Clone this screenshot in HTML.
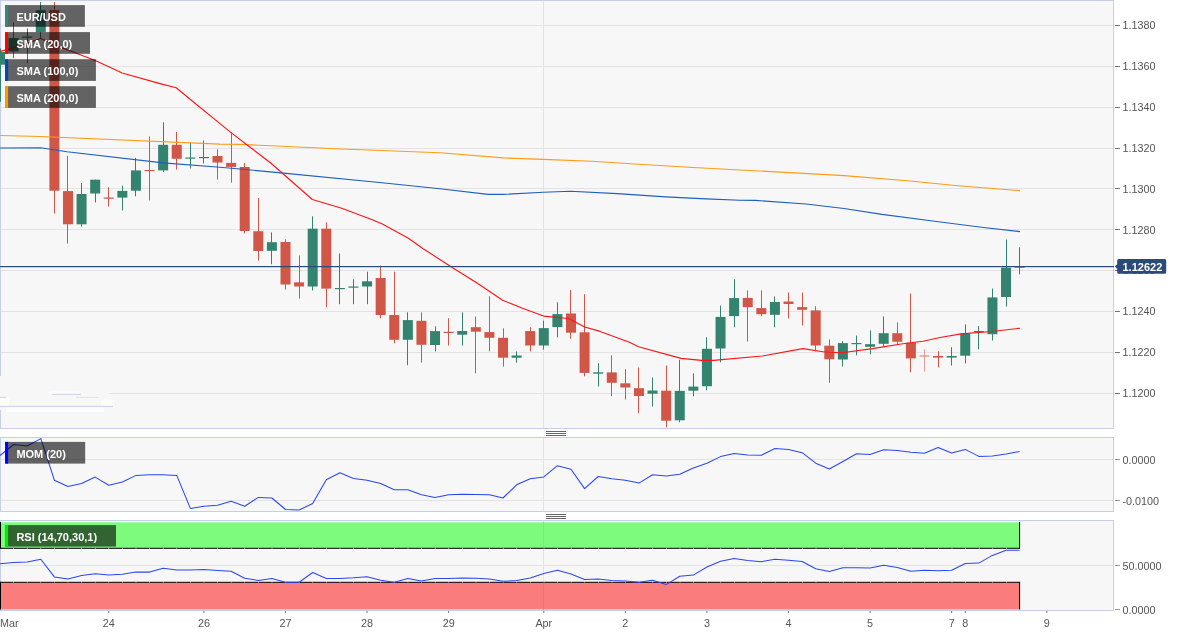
<!DOCTYPE html>
<html><head><meta charset="utf-8"><title>EUR/USD chart</title>
<style>html,body{margin:0;padding:0;background:#fff;overflow:hidden}svg{display:block;position:absolute;left:0;top:0;will-change:transform}text{font-family:"Liberation Sans",sans-serif;font-size:11px}.ax{fill:#555555;font-size:10.8px}.lb{fill:#fff;font-weight:bold}</style></head><body>
<svg width="1184" height="636" viewBox="0 0 1184 636">
<rect x="0" y="0" width="1184" height="636" fill="#ffffff"/>
<rect x="0.5" y="0.5" width="1113" height="428" fill="#f7f7f7" stroke="#c7cfe5" stroke-width="1"/>
<rect x="0.5" y="437.5" width="1113" height="74" fill="#f7f7f7" stroke="#c7cfe5" stroke-width="1"/>
<rect x="0.5" y="520.5" width="1113" height="90" fill="#f7f7f7" stroke="#c7cfe5" stroke-width="1"/>
<line x1="1" y1="25.5" x2="1113" y2="25.5" stroke="#e3e3e3" stroke-width="1"/>
<line x1="1" y1="66.5" x2="1113" y2="66.5" stroke="#e3e3e3" stroke-width="1"/>
<line x1="1" y1="107.5" x2="1113" y2="107.5" stroke="#e3e3e3" stroke-width="1"/>
<line x1="1" y1="148.5" x2="1113" y2="148.5" stroke="#e3e3e3" stroke-width="1"/>
<line x1="1" y1="188.5" x2="1113" y2="188.5" stroke="#e3e3e3" stroke-width="1"/>
<line x1="1" y1="229.5" x2="1113" y2="229.5" stroke="#e3e3e3" stroke-width="1"/>
<line x1="1" y1="270.5" x2="1113" y2="270.5" stroke="#e3e3e3" stroke-width="1"/>
<line x1="1" y1="311.5" x2="1113" y2="311.5" stroke="#e3e3e3" stroke-width="1"/>
<line x1="1" y1="352.5" x2="1113" y2="352.5" stroke="#e3e3e3" stroke-width="1"/>
<line x1="1" y1="393.5" x2="1113" y2="393.5" stroke="#e3e3e3" stroke-width="1"/>
<line x1="1" y1="459.5" x2="1113" y2="459.5" stroke="#e3e3e3" stroke-width="1"/>
<line x1="1" y1="500.5" x2="1113" y2="500.5" stroke="#e3e3e3" stroke-width="1"/>
<line x1="1" y1="565.5" x2="1113" y2="565.5" stroke="#e3e3e3" stroke-width="1"/>
<line x1="543.5" y1="1" x2="543.5" y2="428" stroke="#e3e3e3" stroke-width="1"/>
<line x1="543.5" y1="438" x2="543.5" y2="511" stroke="#e3e3e3" stroke-width="1"/>
<line x1="543.5" y1="521" x2="543.5" y2="610" stroke="#e3e3e3" stroke-width="1"/>
<rect x="0" y="376" width="1.3" height="34" fill="#f7f7f7"/>
<rect x="1" y="392" width="108" height="3" fill="#f7f7f7"/>
<rect x="50" y="391" width="29" height="2.6" fill="#fbfbfb"/>
<rect x="52" y="393.9" width="29" height="1" fill="#cdd4e8"/>
<rect x="76" y="396.9" width="23" height="1" fill="#e1e1e1"/>
<rect x="0" y="396.9" width="6" height="1" fill="#cdd4e8"/>
<rect x="0" y="398" width="9" height="7.6" fill="#fdfdfd"/>
<rect x="101" y="399.5" width="13" height="6.2" fill="#fcfcfc"/>
<rect x="6" y="407.3" width="98" height="4.5" fill="#fdfdfd"/>
<rect x="0" y="405.9" width="113" height="1" fill="#c9d1e6"/>
<g>
<rect x="0" y="48.4" width="1" height="53.4" fill="#33836f"/>
<rect x="0.8" y="52" width="4.2" height="12.7" fill="#33836f"/>
<rect x="13" y="22.5" width="1" height="35.7" fill="#33836f"/>
<rect x="8.6" y="38" width="10" height="13.4" fill="#33836f"/>
<rect x="27" y="28.4" width="1" height="34.6" fill="#33836f"/>
<rect x="22.19" y="36.5" width="10" height="1.3" fill="#33836f"/>
<rect x="40" y="2.1" width="1" height="36.5" fill="#33836f"/>
<rect x="35.79" y="10.2" width="10" height="21.9" fill="#33836f"/>
<rect x="54" y="2.1" width="1" height="211.5" fill="#d05747"/>
<rect x="49.38" y="10" width="10" height="180.7" fill="#d05747"/>
<rect x="67" y="155.8" width="1" height="87.8" fill="#d05747"/>
<rect x="62.98" y="191.1" width="10" height="33.2" fill="#d05747"/>
<rect x="81" y="183" width="1" height="43.6" fill="#33836f"/>
<rect x="76.57" y="194" width="10" height="30.3" fill="#33836f"/>
<rect x="95" y="179.7" width="1" height="22.7" fill="#33836f"/>
<rect x="90.17" y="179.7" width="10" height="13.8" fill="#33836f"/>
<rect x="108" y="187.2" width="1" height="19.3" fill="#d05747"/>
<rect x="103.76" y="197.5" width="10" height="1.2" fill="#d05747"/>
<rect x="122" y="185.6" width="1" height="24.9" fill="#33836f"/>
<rect x="117.36" y="190.9" width="10" height="6.7" fill="#33836f"/>
<rect x="135" y="157.8" width="1" height="38.5" fill="#33836f"/>
<rect x="130.95" y="170.4" width="10" height="20.3" fill="#33836f"/>
<rect x="149" y="136.5" width="1" height="63.9" fill="#d05747"/>
<rect x="144.55" y="170" width="10" height="1.1" fill="#d05747"/>
<rect x="163" y="122.3" width="1" height="49.7" fill="#33836f"/>
<rect x="158.14" y="144.8" width="10" height="25.6" fill="#33836f"/>
<rect x="176" y="132" width="1" height="37.6" fill="#d05747"/>
<rect x="171.74" y="144.8" width="10" height="14" fill="#d05747"/>
<rect x="190" y="142.4" width="1" height="26" fill="#33836f"/>
<rect x="185.33" y="157.5" width="10" height="1.2" fill="#33836f"/>
<rect x="203" y="140.4" width="1" height="23.1" fill="#33836f"/>
<rect x="198.93" y="157" width="10" height="1.2" fill="#33836f"/>
<rect x="217" y="149.3" width="1" height="30.2" fill="#d05747"/>
<rect x="212.52" y="156" width="10" height="6.5" fill="#d05747"/>
<rect x="231" y="132.5" width="1" height="50.1" fill="#d05747"/>
<rect x="226.12" y="162.9" width="10" height="4" fill="#d05747"/>
<rect x="244" y="163.2" width="1" height="70.3" fill="#d05747"/>
<rect x="239.71" y="167" width="10" height="64" fill="#d05747"/>
<rect x="258" y="198" width="1" height="62.6" fill="#d05747"/>
<rect x="253.31" y="231.2" width="10" height="19.8" fill="#d05747"/>
<rect x="271" y="232.4" width="1" height="31.8" fill="#33836f"/>
<rect x="266.9" y="242.2" width="10" height="8.6" fill="#33836f"/>
<rect x="285" y="239.3" width="1" height="50.3" fill="#d05747"/>
<rect x="280.5" y="242" width="10" height="42.5" fill="#d05747"/>
<rect x="299" y="255.5" width="1" height="43" fill="#d05747"/>
<rect x="294.09" y="282.3" width="10" height="4.2" fill="#d05747"/>
<rect x="312" y="216.3" width="1" height="74.1" fill="#33836f"/>
<rect x="307.69" y="228.7" width="10" height="57.8" fill="#33836f"/>
<rect x="326" y="222.4" width="1" height="84.8" fill="#d05747"/>
<rect x="321.28" y="228.7" width="10" height="59.9" fill="#d05747"/>
<rect x="339" y="253.5" width="1" height="50.7" fill="#33836f"/>
<rect x="334.88" y="288" width="10" height="1.2" fill="#33836f"/>
<rect x="353" y="279.4" width="1" height="24.8" fill="#33836f"/>
<rect x="348.47" y="286.5" width="10" height="1.2" fill="#33836f"/>
<rect x="367" y="271.7" width="1" height="32.5" fill="#33836f"/>
<rect x="362.06" y="281.3" width="10" height="5.2" fill="#33836f"/>
<rect x="380" y="265.6" width="1" height="52.8" fill="#d05747"/>
<rect x="375.66" y="278" width="10" height="37" fill="#d05747"/>
<rect x="394" y="271.7" width="1" height="71.6" fill="#d05747"/>
<rect x="389.25" y="315" width="10" height="24.8" fill="#d05747"/>
<rect x="407" y="312.3" width="1" height="52.9" fill="#33836f"/>
<rect x="402.85" y="320.1" width="10" height="19.7" fill="#33836f"/>
<rect x="421" y="312.3" width="1" height="50.3" fill="#d05747"/>
<rect x="416.44" y="320.8" width="10" height="24" fill="#d05747"/>
<rect x="435" y="326.3" width="1" height="25.1" fill="#33836f"/>
<rect x="430.04" y="331.1" width="10" height="13.9" fill="#33836f"/>
<rect x="448" y="318.2" width="1" height="27.4" fill="#d05747"/>
<rect x="443.64" y="331.8" width="10" height="1.2" fill="#d05747"/>
<rect x="462" y="312.3" width="1" height="33.2" fill="#33836f"/>
<rect x="457.23" y="331" width="10" height="3.7" fill="#33836f"/>
<rect x="475" y="316.5" width="1" height="56.8" fill="#d05747"/>
<rect x="470.83" y="327.2" width="10" height="4.5" fill="#d05747"/>
<rect x="489" y="296.2" width="1" height="55.2" fill="#d05747"/>
<rect x="484.42" y="332.1" width="10" height="5.7" fill="#d05747"/>
<rect x="503" y="328.3" width="1" height="38.3" fill="#d05747"/>
<rect x="498.02" y="337.8" width="10" height="19.9" fill="#d05747"/>
<rect x="516" y="351.4" width="1" height="11.2" fill="#33836f"/>
<rect x="511.61" y="355.5" width="10" height="2.2" fill="#33836f"/>
<rect x="530" y="327.3" width="1" height="24.1" fill="#d05747"/>
<rect x="525.21" y="331.1" width="10" height="14.4" fill="#d05747"/>
<rect x="543" y="320.6" width="1" height="29" fill="#33836f"/>
<rect x="538.8" y="328.1" width="10" height="17.4" fill="#33836f"/>
<rect x="557" y="302.3" width="1" height="35.1" fill="#33836f"/>
<rect x="552.39" y="314.1" width="10" height="13" fill="#33836f"/>
<rect x="570" y="290.1" width="1" height="48.7" fill="#d05747"/>
<rect x="565.99" y="313.5" width="10" height="19.2" fill="#d05747"/>
<rect x="584" y="294.2" width="1" height="82.1" fill="#d05747"/>
<rect x="579.59" y="332.3" width="10" height="40.6" fill="#d05747"/>
<rect x="598" y="363.2" width="1" height="23.3" fill="#33836f"/>
<rect x="593.18" y="372.3" width="10" height="1.4" fill="#33836f"/>
<rect x="611" y="355.4" width="1" height="40.8" fill="#d05747"/>
<rect x="606.77" y="372.4" width="10" height="10.4" fill="#d05747"/>
<rect x="625" y="369.3" width="1" height="30.2" fill="#d05747"/>
<rect x="620.37" y="383.3" width="10" height="4.2" fill="#d05747"/>
<rect x="638" y="367.5" width="1" height="45.7" fill="#d05747"/>
<rect x="633.97" y="388.2" width="10" height="7.8" fill="#d05747"/>
<rect x="652" y="377.5" width="1" height="29" fill="#33836f"/>
<rect x="647.56" y="390.5" width="10" height="3.2" fill="#33836f"/>
<rect x="666" y="365.5" width="1" height="61.9" fill="#d05747"/>
<rect x="661.16" y="390.7" width="10" height="30" fill="#d05747"/>
<rect x="679" y="359.8" width="1" height="62.5" fill="#33836f"/>
<rect x="674.75" y="390.9" width="10" height="29.4" fill="#33836f"/>
<rect x="693" y="373.4" width="1" height="22.9" fill="#33836f"/>
<rect x="688.35" y="386.6" width="10" height="4.1" fill="#33836f"/>
<rect x="706" y="337.3" width="1" height="53" fill="#33836f"/>
<rect x="701.94" y="348.8" width="10" height="37.4" fill="#33836f"/>
<rect x="720" y="305.5" width="1" height="56.8" fill="#33836f"/>
<rect x="715.54" y="316.9" width="10" height="31.6" fill="#33836f"/>
<rect x="734" y="279.3" width="1" height="48" fill="#33836f"/>
<rect x="729.13" y="298.1" width="10" height="18" fill="#33836f"/>
<rect x="747" y="290.4" width="1" height="51.1" fill="#d05747"/>
<rect x="742.73" y="297.9" width="10" height="9.2" fill="#d05747"/>
<rect x="761" y="290.4" width="1" height="25.9" fill="#d05747"/>
<rect x="756.32" y="308.1" width="10" height="6.1" fill="#d05747"/>
<rect x="774" y="296.5" width="1" height="30.8" fill="#33836f"/>
<rect x="769.92" y="302" width="10" height="12.8" fill="#33836f"/>
<rect x="788" y="292.5" width="1" height="25.9" fill="#d05747"/>
<rect x="783.51" y="301.5" width="10" height="2.5" fill="#d05747"/>
<rect x="802" y="292.5" width="1" height="33" fill="#d05747"/>
<rect x="797.11" y="307.1" width="10" height="2.7" fill="#d05747"/>
<rect x="815" y="306.2" width="1" height="45.1" fill="#d05747"/>
<rect x="810.7" y="310.4" width="10" height="35.1" fill="#d05747"/>
<rect x="829" y="339.5" width="1" height="43.2" fill="#d05747"/>
<rect x="824.3" y="345.7" width="10" height="13.6" fill="#d05747"/>
<rect x="842" y="341.1" width="1" height="25.4" fill="#33836f"/>
<rect x="837.89" y="343.1" width="10" height="16.4" fill="#33836f"/>
<rect x="856" y="335.5" width="1" height="19.8" fill="#33836f"/>
<rect x="851.49" y="343" width="10" height="1.2" fill="#33836f"/>
<rect x="870" y="330.4" width="1" height="23.9" fill="#33836f"/>
<rect x="865.08" y="344.2" width="10" height="2.6" fill="#33836f"/>
<rect x="883" y="316.4" width="1" height="30.4" fill="#33836f"/>
<rect x="878.68" y="333.2" width="10" height="10.6" fill="#33836f"/>
<rect x="897" y="322.3" width="1" height="21.7" fill="#d05747"/>
<rect x="892.27" y="333.2" width="10" height="8.5" fill="#d05747"/>
<rect x="910" y="293.5" width="1" height="78.8" fill="#d05747"/>
<rect x="905.87" y="342.8" width="10" height="15.6" fill="#d05747"/>
<rect x="924" y="349.2" width="1" height="22.4" fill="#d05747" opacity="0.55"/>
<rect x="919.46" y="355.3" width="10" height="1.4" fill="#d05747" opacity="0.55"/>
<rect x="938" y="351.3" width="1" height="16.2" fill="#d05747"/>
<rect x="933.06" y="356" width="10" height="1.6" fill="#d05747"/>
<rect x="951" y="347.2" width="1" height="18.3" fill="#33836f"/>
<rect x="946.65" y="356" width="10" height="1.6" fill="#33836f"/>
<rect x="965" y="324.3" width="1" height="39.2" fill="#33836f"/>
<rect x="960.25" y="333.6" width="10" height="22.1" fill="#33836f"/>
<rect x="978" y="326.1" width="1" height="23.3" fill="#33836f"/>
<rect x="973.84" y="331" width="10" height="1.3" fill="#33836f"/>
<rect x="992" y="288.5" width="1" height="52" fill="#33836f"/>
<rect x="987.44" y="297.4" width="10" height="36.8" fill="#33836f"/>
<rect x="1006" y="239.6" width="1" height="66.9" fill="#33836f"/>
<rect x="1001.03" y="267.6" width="10" height="29.4" fill="#33836f"/>
<rect x="1019" y="247.3" width="1" height="27" fill="#33836f"/>
<rect x="1014.62" y="266.5" width="10" height="1.2" fill="#33836f"/>
</g>
<polyline fill="none" stroke="#ff9a1a" stroke-width="1.1" stroke-linejoin="round" points="0,135.5 40.6,136.5 220,144.1 240,144.4 341.7,149 440,152.8 503.3,157.9 543.4,159.4 592,161.2 642.7,164.5 693.4,167.5 740,170 780.7,172.1 844,175.6 907.4,180.7 958,185.7 1020,190.6"/>
<polyline fill="none" stroke="#1f5fc0" stroke-width="1.1" stroke-linejoin="round" points="0,148 40.6,147.7 67,151.7 163,162.9 220,167.3 240,169 280.9,172.9 382,182.8 440,188.7 488.1,194.4 503.3,194.4 543.4,192.3 570.5,191.3 617.4,193.6 665.5,196.9 706,198.9 740,200.2 755.3,200.4 806,204 844,208.5 882,214.4 932.7,221 983.4,227.5 1020,231.6"/>
<polyline fill="none" stroke="#ff1414" stroke-width="1.1" stroke-linejoin="round" points="0,51.4 13.6,48 27.2,43.2 40.7,38.4 54.3,44.4 62.7,48.1 95.8,60.8 122.2,73 160,83.6 176.2,87.8 190.7,99.7 220,123.6 232,133.4 270.7,163 312.3,199.5 341.7,208.2 372.9,220 382.3,223.9 408.4,238.3 422.8,248.5 451,266.7 472.2,280 480,285 502.6,300.3 521.8,308 543.5,316.1 568.5,318.5 584.7,327 600,331.4 630,342.5 638.5,346.7 681,358.4 701.4,360.4 713.6,360.4 762.3,356 802.8,348.6 823,351.7 829.8,352.3 842,352.7 872.4,348.6 902.8,343.8 923.1,341.3 940,337.5 961,333.9 991.4,331.5 1020,328.2"/>
<rect x="0" y="266" width="1114" height="1.2" fill="#2c4a78"/>
<rect x="5.1" y="5.1" width="79.8" height="21.7" fill="#000" fill-opacity="0.6"/>
<rect x="5.1" y="5.1" width="3" height="21.7" fill="#2f8b77"/>
<text class="lb" x="16.4" y="20.8">EUR/USD</text>
<rect x="5.1" y="32.1" width="84.9" height="21.7" fill="#000" fill-opacity="0.6"/>
<rect x="5.1" y="32.1" width="3" height="21.7" fill="#ff0000"/>
<text class="lb" x="16.4" y="47.8">SMA (20,0)</text>
<rect x="5.1" y="59.2" width="90.8" height="21.7" fill="#000" fill-opacity="0.6"/>
<rect x="5.1" y="59.2" width="3" height="21.7" fill="#0046b8"/>
<text class="lb" x="16.4" y="74.9">SMA (100,0)</text>
<rect x="5.1" y="86.2" width="90.8" height="21.7" fill="#000" fill-opacity="0.6"/>
<rect x="5.1" y="86.2" width="3" height="21.7" fill="#ff9900"/>
<text class="lb" x="16.4" y="101.9">SMA (200,0)</text>
<rect x="1115" y="25" width="5" height="1" fill="#777"/>
<text class="ax" x="1122.5" y="29.15">1.1380</text>
<rect x="1115" y="66" width="5" height="1" fill="#777"/>
<text class="ax" x="1122.5" y="70.03">1.1360</text>
<rect x="1115" y="107" width="5" height="1" fill="#777"/>
<text class="ax" x="1122.5" y="110.91">1.1340</text>
<rect x="1115" y="148" width="5" height="1" fill="#777"/>
<text class="ax" x="1122.5" y="151.79">1.1320</text>
<rect x="1115" y="188" width="5" height="1" fill="#777"/>
<text class="ax" x="1122.5" y="192.67">1.1300</text>
<rect x="1115" y="229" width="5" height="1" fill="#777"/>
<text class="ax" x="1122.5" y="233.55">1.1280</text>
<rect x="1115" y="270" width="5" height="1" fill="#777"/>
<text class="ax" x="1122.5" y="274.43">1.1260</text>
<rect x="1115" y="311" width="5" height="1" fill="#777"/>
<text class="ax" x="1122.5" y="315.31">1.1240</text>
<rect x="1115" y="352" width="5" height="1" fill="#777"/>
<text class="ax" x="1122.5" y="356.19">1.1220</text>
<rect x="1115" y="393" width="5" height="1" fill="#777"/>
<text class="ax" x="1122.5" y="397.07">1.1200</text>
<path d="M1114.7 266.5 L1117.2 264.3 L1117.2 260.4 Q1117.2 258.9 1118.7 258.9 L1164.7 258.9 Q1166.2 258.9 1166.2 260.4 L1166.2 272.2 Q1166.2 273.7 1164.7 273.7 L1118.7 273.7 Q1117.2 273.7 1117.2 272.2 L1117.2 268.7 Z" fill="#2c4a78"/>
<text class="lb" x="1122.5" y="270.9">1.12622</text>
<polyline fill="none" stroke="#2a46f5" stroke-width="1.05" stroke-linejoin="round" points="0,455.5 13.6,444.5 27.19,446 40.79,438.6 54.38,480.2 67.98,486.4 81.57,483.5 95.17,477.1 108.76,485.3 122.36,482 135.95,475.4 149.55,474.7 163.14,474.7 176.74,475.4 190.33,508.4 203.93,506.2 217.52,505.3 231.12,501.3 244.71,506.2 258.31,497.4 271.9,498 285.5,509.5 299.09,510 312.69,503.6 326.28,479.8 339.88,472.7 353.47,478.4 367.06,480.2 380.66,483.5 394.25,489.7 407.85,489.7 421.44,494.7 435.04,497.4 448.64,494.7 462.23,494.3 475.83,494.5 489.42,494.7 503.02,498 516.61,484.8 530.21,478.7 543.8,476.9 557.39,465.7 570.99,469.2 584.59,488.6 598.18,476.5 611.77,478.7 625.37,480.2 638.97,483.1 652.56,474.7 666.16,476 679.75,474.3 693.35,468.1 706.94,463.2 720.54,456.6 734.13,453.6 747.73,455.1 761.32,455.3 774.92,448.5 788.51,449.6 802.11,452.7 815.7,463.2 829.3,469 842.89,461.5 856.49,453.8 870.08,454.4 883.68,449.8 897.27,450.5 910.87,452.2 924.46,453.3 938.06,447.4 951.65,453.1 965.25,449.4 978.84,456.4 992.44,456 1006.03,454 1019.62,451.5"/>
<rect x="5.1" y="441.9" width="80.1" height="21.7" fill="#000" fill-opacity="0.6"/>
<rect x="5.1" y="441.9" width="3" height="21.7" fill="#0000ff"/>
<text class="lb" x="16.4" y="457.6">MOM (20)</text>
<rect x="1115" y="459" width="5" height="1" fill="#999"/>
<text class="ax" x="1122.5" y="463.7">0.0000</text>
<rect x="1115" y="500" width="5" height="1" fill="#999"/>
<text class="ax" x="1122.5" y="504.7">-0.0100</text>
<rect x="0" y="522.3" width="1019.7" height="26" fill="#7cfb7c"/>
<rect x="0" y="582.3" width="1019.7" height="27.2" fill="#fb7c7c"/>
<rect x="543" y="522" width="1" height="26" fill="#71f171"/>
<rect x="543" y="583" width="1" height="26.5" fill="#f17171"/>
<rect x="0" y="522" width="1" height="26.8" fill="#000"/>
<rect x="1019.1" y="522" width="1" height="26.8" fill="#000"/>
<line x1="0" y1="548.3" x2="1019.7" y2="548.3" stroke="#000" stroke-width="1" stroke-dasharray="13.1 0.5" stroke-dashoffset="-0.25"/>
<rect x="0" y="581.8" width="1" height="27.7" fill="#000"/>
<rect x="1019.1" y="581.8" width="1" height="27.7" fill="#000"/>
<line x1="0" y1="582.3" x2="1019.7" y2="582.3" stroke="#000" stroke-width="1" stroke-dasharray="13.1 0.5" stroke-dashoffset="-0.25"/>
<polyline fill="none" stroke="#2a46f5" stroke-width="1.05" stroke-linejoin="round" points="0,563.7 13.6,562.4 27.19,562 40.79,559.3 54.38,576.9 67.98,579.1 81.57,575.6 95.17,573.8 108.76,575.1 122.36,574.3 135.95,572.1 149.55,572.1 163.14,568.3 176.74,570.1 190.33,569.9 203.93,569.6 217.52,570.5 231.12,571.2 244.71,578.2 258.31,580.4 271.9,578.4 285.5,582.2 299.09,582.2 312.69,572.5 326.28,578.4 339.88,578.4 353.47,577.8 367.06,576.7 380.66,580.2 394.25,582.2 407.85,578.6 421.44,581 435.04,578.4 448.64,578.4 462.23,578 475.83,578.2 489.42,579.1 503.02,581.3 516.61,580.6 530.21,578 543.8,573.6 557.39,570.3 570.99,574 584.59,579.5 598.18,578.9 611.77,580.4 625.37,581 638.97,582.2 652.56,580.2 666.16,584.6 679.75,576.2 693.35,575.1 706.94,567 720.54,561.3 734.13,558.4 747.73,560.4 761.32,561.7 774.92,559.3 788.51,560.2 802.11,561.5 815.7,568.8 829.3,571.6 842.89,567.7 856.49,567.7 870.08,568.1 883.68,565.3 897.27,567.4 910.87,571.2 924.46,570.3 938.06,570.7 951.65,570.3 965.25,563.5 978.84,563.1 992.44,555.4 1006.03,550.3 1019.62,550.2"/>
<rect x="5.1" y="525.1" width="110.9" height="21.5" fill="#000" fill-opacity="0.6"/>
<rect x="5.1" y="525.1" width="3" height="21.5" fill="#00ee00"/>
<text class="lb" x="16.4" y="540.8">RSI (14,70,30,1)</text>
<rect x="1115" y="565" width="5" height="1" fill="#999"/>
<text class="ax" x="1122.5" y="569.7">50.0000</text>
<rect x="1115" y="609" width="5" height="1" fill="#999"/>
<text class="ax" x="1122.5" y="613.7">0.0000</text>
<line x1="0" y1="610.5" x2="1114" y2="610.5" stroke="#c7cfe5" stroke-width="1"/>
<rect x="546" y="431" width="20" height="1" fill="#6b6462"/>
<rect x="546" y="433" width="20" height="1" fill="#6b6462"/>
<rect x="546" y="435" width="20" height="1" fill="#6b6462"/>
<rect x="546" y="514" width="20" height="1" fill="#6b6462"/>
<rect x="546" y="516" width="20" height="1" fill="#6b6462"/>
<rect x="546" y="518" width="20" height="1" fill="#6b6462"/>
<text class="ax" x="0" y="627.2">Mar</text>
<rect x="108.26" y="611" width="1" height="2" fill="#777"/>
<text class="ax" x="108.76" y="627.2" text-anchor="middle">24</text>
<rect x="203.43" y="611" width="1" height="2" fill="#777"/>
<text class="ax" x="203.93" y="627.2" text-anchor="middle">26</text>
<rect x="285" y="611" width="1" height="2" fill="#777"/>
<text class="ax" x="285.5" y="627.2" text-anchor="middle">27</text>
<rect x="366.56" y="611" width="1" height="2" fill="#777"/>
<text class="ax" x="367.06" y="627.2" text-anchor="middle">28</text>
<rect x="448.14" y="611" width="1" height="2" fill="#777"/>
<text class="ax" x="448.64" y="627.2" text-anchor="middle">29</text>
<rect x="543.3" y="611" width="1" height="2" fill="#777"/>
<text class="ax" x="543.8" y="627.2" text-anchor="middle">Apr</text>
<rect x="624.87" y="611" width="1" height="2" fill="#777"/>
<text class="ax" x="625.37" y="627.2" text-anchor="middle">2</text>
<rect x="706.44" y="611" width="1" height="2" fill="#777"/>
<text class="ax" x="706.94" y="627.2" text-anchor="middle">3</text>
<rect x="788.01" y="611" width="1" height="2" fill="#777"/>
<text class="ax" x="788.51" y="627.2" text-anchor="middle">4</text>
<rect x="869.58" y="611" width="1" height="2" fill="#777"/>
<text class="ax" x="870.08" y="627.2" text-anchor="middle">5</text>
<rect x="951.15" y="611" width="1" height="2" fill="#777"/>
<text class="ax" x="951.65" y="627.2" text-anchor="middle">7</text>
<rect x="964.75" y="611" width="1" height="2" fill="#777"/>
<text class="ax" x="965.25" y="627.2" text-anchor="middle">8</text>
<rect x="1046.32" y="611" width="1" height="2" fill="#777"/>
<text class="ax" x="1046.82" y="627.2" text-anchor="middle">9</text>
</svg></body></html>
